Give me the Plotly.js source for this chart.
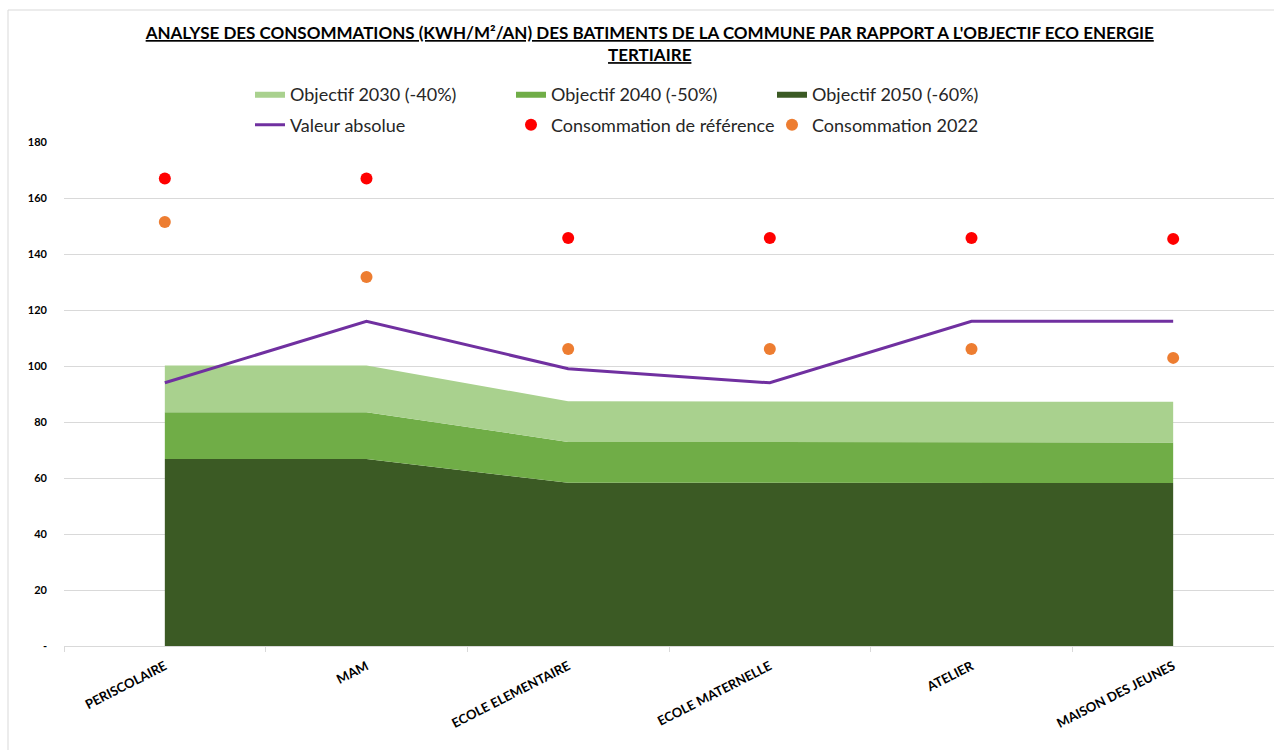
<!DOCTYPE html>
<html>
<head>
<meta charset="utf-8">
<script src="https://cdn.plot.ly/plotly-3.0.1.min.js"></script>
<style>html,body{margin:0;padding:0;background:#fff;}#chart{width:1274px;height:750px;}</style>
</head>
<body>
<div id="chart"></div>
<script>
const categories = ['PERISCOLAIRE', 'MAM', 'ECOLE ELEMENTAIRE', 'ECOLE MATERNELLE', 'ATELIER', 'MAISON DES JEUNES'];
const objectif2030 = [100.2, 100.2, 87.4, 87.4, 87.4, 87.2];
const objectif2040 = [83.5, 83.5, 72.9, 72.9, 72.9, 72.7];
const objectif2050 = [66.8, 66.8, 58.3, 58.3, 58.3, 58.2];
const valeurAbsolue = [94, 116, 99, 94, 116, 116];
const consoReference = [167, 167, 145.7, 145.7, 145.7, 145.4];
const conso2022 = [151.4, 131.8, 106.1, 106.1, 106.1, 102.9];
const yTickVals = [0, 20, 40, 60, 80, 100, 120, 140, 160, 180];
const yTickText = ['-', '20', '40', '60', '80', '100', '120', '140', '160', '180'];

const FONT = 'Lato, "Open Sans", sans-serif';

const traces = [
  {x: categories, y: objectif2050, name: 'Objectif 2050 (-60%)', type: 'scatter', mode: 'lines',
   fill: 'tozeroy', fillcolor: '#3B5A24', line: {width: 0, color: '#3B5A24'}, legend: 'legend', legendrank: 3, hoverinfo: 'y'},
  {x: categories, y: objectif2040, name: 'Objectif 2040 (-50%)', type: 'scatter', mode: 'lines',
   fill: 'tonexty', fillcolor: '#70AD47', line: {width: 0, color: '#70AD47'}, legend: 'legend', legendrank: 2, hoverinfo: 'y'},
  {x: categories, y: objectif2030, name: 'Objectif 2030 (-40%)', type: 'scatter', mode: 'lines',
   fill: 'tonexty', fillcolor: '#A9D18E', line: {width: 0, color: '#A9D18E'}, legend: 'legend', legendrank: 1, hoverinfo: 'y'},
  {x: categories, y: valeurAbsolue, name: 'Valeur absolue', type: 'scatter', mode: 'lines',
   line: {width: 3, color: '#7030A0'}, legend: 'legend2', legendrank: 1},
  {x: categories, y: consoReference, name: 'Consommation de référence', type: 'scatter', mode: 'markers',
   marker: {size: 12, color: '#FF0000'}, legend: 'legend2', legendrank: 2},
  {x: categories, y: conso2022, name: 'Consommation 2022', type: 'scatter', mode: 'markers',
   marker: {size: 12, color: '#ED7D31'}, legend: 'legend2', legendrank: 3}
];

const legendCommon = {
  orientation: 'h', xref: 'paper', yref: 'paper', xanchor: 'left', yanchor: 'middle',
  entrywidth: 216, entrywidthmode: 'pixels', itemwidth: 30,
  font: {family: FONT, size: 18, color: '#262626'}, bgcolor: 'rgba(0,0,0,0)',
  traceorder: 'normal', itemclick: false, itemdoubleclick: false
};

const layout = {
  width: 1274, height: 750,
  margin: {l: 64, r: 0, t: 142, b: 104, pad: 0},
  paper_bgcolor: '#ffffff', plot_bgcolor: '#ffffff',
  font: {family: FONT, color: '#262626'},
  title: {
    text: "<u>ANALYSE DES CONSOMMATIONS (KWH/M²/AN) DES BATIMENTS DE LA COMMUNE PAR RAPPORT A L'OBJECTIF ECO ENERGIE</u><br><u>TERTIAIRE</u>",
    font: {family: FONT, size: 17, weight: 'bold', color: '#000000'},
    xref: 'container', x: 0.51, xanchor: 'center',
    yref: 'container', y: 1 - 39/750, yanchor: 'middle'
  },
  showlegend: true,
  legend: Object.assign({}, legendCommon, {x: (250 - 64) / 1210, y: 1 + (142 - 94) / 504}),
  legend2: Object.assign({}, legendCommon, {x: (250 - 64) / 1210, y: 1 + (142 - 125) / 504}),
  xaxis: {
    type: 'category', range: [-0.5, 5.5], fixedrange: true,
    showgrid: false, zeroline: false,
    showline: true, linecolor: '#D9D9D9', linewidth: 1,
    ticks: 'outside', tickson: 'boundaries', ticklen: 5, tickcolor: '#D9D9D9', tickwidth: 1,
    tickangle: -27, ticklabelstandoff: 7,
    tickfont: {family: FONT, size: 13, weight: 'bold', color: '#000000'}
  },
  yaxis: {
    range: [0, 180], fixedrange: true,
    tickmode: 'array', tickvals: yTickVals, ticktext: yTickText,
    showgrid: true, gridcolor: '#D9D9D9', gridwidth: 1,
    zeroline: false, showline: false, ticks: '',
    ticklabelstandoff: 16,
    tickfont: {family: FONT, size: 11, weight: 'bold', color: '#000000'}
  },
  shapes: [
    {type: 'line', xref: 'paper', yref: 'paper', x0: (8 - 64) / 1210, x1: (8 - 64) / 1210,
     y0: 1 + (142 - 10) / 504, y1: (646 - 760) / 504, line: {color: '#D9D9D9', width: 1}},
    {type: 'line', xref: 'paper', yref: 'paper', x0: (8 - 64) / 1210, x1: 1.01,
     y0: 1 + (142 - 10) / 504, y1: 1 + (142 - 10) / 504, line: {color: '#D9D9D9', width: 1}}
  ]
};

Plotly.newPlot('chart', traces, layout, {displayModeBar: false, staticPlot: true});
</script>
</body>
</html>
